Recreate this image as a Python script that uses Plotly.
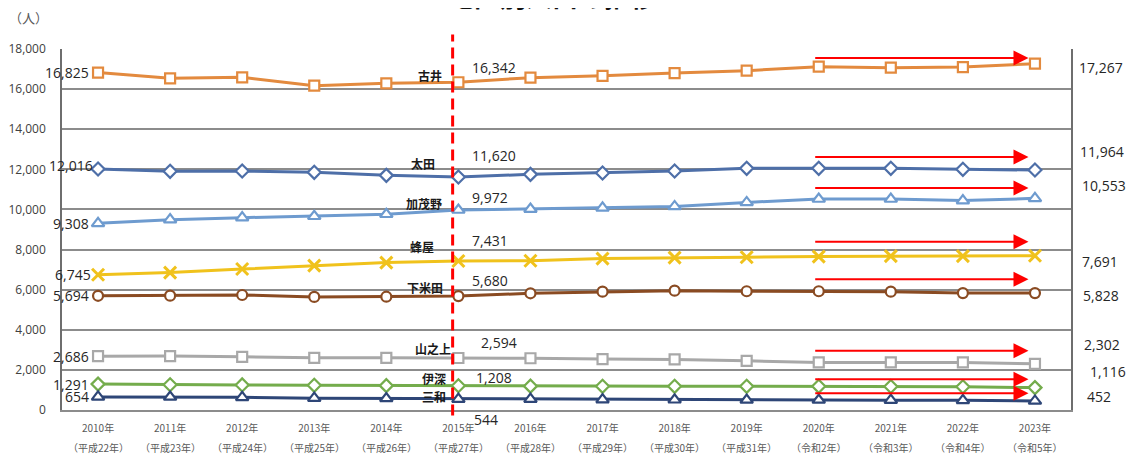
import plotly.graph_objects as go

years = ["2010年", "2011年", "2012年", "2013年", "2014年", "2015年", "2016年",
         "2017年", "2018年", "2019年", "2020年", "2021年", "2022年", "2023年"]
eras = ["（平成22年）", "（平成23年）", "（平成24年）", "（平成25年）", "（平成26年）",
        "（平成27年）", "（平成28年）", "（平成29年）", "（平成30年）", "（平成31年）",
        "（令和2年）", "（令和3年）", "（令和4年）", "（令和5年）"]

furui = [16825, 16540, 16590, 16170, 16290, 16342, 16570, 16660, 16800, 16920, 17117, 17067, 17100, 17267]
ota = [12016, 11900, 11920, 11850, 11700, 11620, 11750, 11820, 11920, 12050, 12050, 12050, 12000, 11964]
kamono = [9308, 9490, 9590, 9660, 9760, 9972, 10020, 10080, 10150, 10350, 10520, 10520, 10440, 10553]
hachiya = [6745, 6850, 7030, 7200, 7350, 7431, 7440, 7550, 7600, 7616, 7650, 7670, 7670, 7691]
shimoyoneda = [5694, 5700, 5734, 5640, 5650, 5680, 5820, 5900, 5950, 5920, 5920, 5900, 5830, 5828]
yamanoue = [2686, 2690, 2650, 2600, 2600, 2594, 2580, 2540, 2520, 2450, 2370, 2370, 2370, 2302]
ibuka = [1291, 1256, 1250, 1230, 1215, 1208, 1190, 1180, 1180, 1180, 1180, 1170, 1160, 1116]
miwa = [654, 650, 630, 590, 575, 544, 540, 520, 510, 500, 500, 490, 480, 452]

names = ["古井", "太田", "加茂野", "蜂屋", "下米田", "山之上", "伊深", "三和"]
series = [furui, ota, kamono, hachiya, shimoyoneda, yamanoue, ibuka, miwa]
colors = ["#e38a3e", "#4e6fa8", "#6e9bcf", "#f0c21c", "#8a4b22", "#a8a8a8", "#74ac4c", "#2e4677"]
symbols = ["square", "diamond", "triangle-up", "x-thin", "circle", "square", "diamond", "triangle-up"]

# label placement offsets (pixels)
left_yshift = [0, 4, 0, 0, 0, 0, 0, 0]
left_xshift = [-6, -2, -6, -4, -6, -6, -6, -6]
mid_yshift = [15, 21, 13, 20, 16, 15, 8, -20]
mid_xshift = [12, 12, 12, 12, 12, 21, 16, 14]
name_yshift = [7, 13, 7, 14, 9, 9, 7, 3]
name_xshift = [-14, -21, -14, -22, -13, -5, -10, -10]
right_yshift = [-4, 19, 13, -6, -2, 19, 16, 4]
right_xshift = [6, 7, 9, 9, 10, 11, 17, 14]
arrow_level = [17551, 12615, 11069, 8392, 6517, 2958, 1530, 832]
arrow_from = 9.93
arrow_to = 12.91
cut_x = 4.92

xs = list(range(len(years)))
fig = go.Figure()
for nm, vals, c, s in zip(names, series, colors, symbols):
    if s == "x-thin":
        marker = dict(symbol=s, size=12, color=c, line=dict(color=c, width=3))
    else:
        marker = dict(symbol=s, size=10 if s != "triangle-up" else 11, color="white",
                      line=dict(color=c, width=2.2))
    fig.add_trace(go.Scatter(x=xs, y=vals, mode="lines+markers", name=nm,
                             line=dict(color=c, width=3), marker=marker,
                             showlegend=False))

num_font = dict(family="Open Sans, Noto Sans, sans-serif", size=14, color="#262626")
name_font = dict(family="Noto Sans CJK JP", size=12, color="#1a1a1a", weight="bold")
ann = []
for i, (nm, vals) in enumerate(zip(names, series)):
    ann.append(dict(x=0, y=vals[0], xref="x", yref="y", text=f"{vals[0]:,}", showarrow=False,
                    xanchor="right", yanchor="middle", xshift=left_xshift[i] - 1,
                    yshift=left_yshift[i], font=num_font))
    ann.append(dict(x=5, y=vals[5], xref="x", yref="y", text=f"{vals[5]:,}", showarrow=False,
                    xanchor="left", yanchor="middle", xshift=mid_xshift[i],
                    yshift=mid_yshift[i], font=num_font))
    ann.append(dict(x=5, y=vals[5], xref="x", yref="y", text=nm, showarrow=False,
                    xanchor="right", yanchor="middle", xshift=name_xshift[i],
                    yshift=name_yshift[i], font=name_font))
    ann.append(dict(x=13.5, y=vals[-1], xref="x", yref="y", text=f"{vals[-1]:,}", showarrow=False,
                    xanchor="left", yanchor="middle", xshift=right_xshift[i],
                    yshift=right_yshift[i], font=num_font))
    ann.append(dict(x=arrow_to, y=arrow_level[i], ax=arrow_from, ay=arrow_level[i],
                    xref="x", yref="y", axref="x", ayref="y", text="", showarrow=True,
                    arrowhead=2, arrowsize=1.5, arrowwidth=2, arrowcolor="#ff0000"))

for i, e in enumerate(eras):
    ann.append(dict(x=i, y=0, xref="x", yref="paper", text=e, showarrow=False,
                    xanchor="center", yanchor="middle", yshift=-37,
                    font=dict(family="Noto Sans CJK JP", size=10, color="#595959")))

ann.append(dict(x=-0.055, y=1.0, xref="paper", yref="paper", text="（人）", showarrow=False,
                xanchor="left", yanchor="middle", yshift=32,
                font=dict(family="Noto Sans CJK JP", size=13, color="#595959")))
ann.append(dict(x=0.486, y=1.0, xref="paper", yref="paper", text="地区別人口の推移",
                showarrow=False, xanchor="center", yanchor="bottom", yshift=33,
                font=dict(family="Noto Sans CJK JP", size=26, color="#111111", weight="bold")))

fig.add_shape(type="line", xref="x", yref="paper", x0=cut_x, x1=cut_x, y0=-0.015, y1=1.04,
              line=dict(color="#ff0000", width=3, dash="11px,6px"))

fig.update_layout(
    width=1134, height=457,
    margin=dict(l=54, r=71, t=41, b=55),
    paper_bgcolor="white", plot_bgcolor="white",
    annotations=ann,
    font=dict(family="Noto Sans CJK JP"),
)
fig.update_xaxes(range=[-0.5, 13.5], tickmode="array", tickvals=xs, ticktext=years,
                 showgrid=False, showline=True, linecolor="#8c8c8c", linewidth=1.5,
                 mirror=False, ticks="", zeroline=False, ticklabelstandoff=8,
                 automargin=False,
                 tickfont=dict(family="Noto Sans CJK JP", size=10, color="#595959"))
fig.update_yaxes(range=[0, 18000], tickmode="array",
                 tickvals=[0, 2000, 4000, 6000, 8000, 10000, 12000, 14000, 16000, 18000],
                 ticktext=["0", "2,000", "4,000", "6,000", "8,000", "10,000", "12,000",
                           "14,000", "16,000", "18,000"],
                 showgrid=True, gridcolor="#8c8c8c", gridwidth=1.5,
                 showline=True, linecolor="#6e6e6e", linewidth=1.5, mirror=True,
                 zeroline=False, ticks="", ticklabelstandoff=12, automargin=False,
                 tickfont=dict(family="Open Sans, sans-serif", size=12, color="#404040"))

fig.write_html("out.html")
